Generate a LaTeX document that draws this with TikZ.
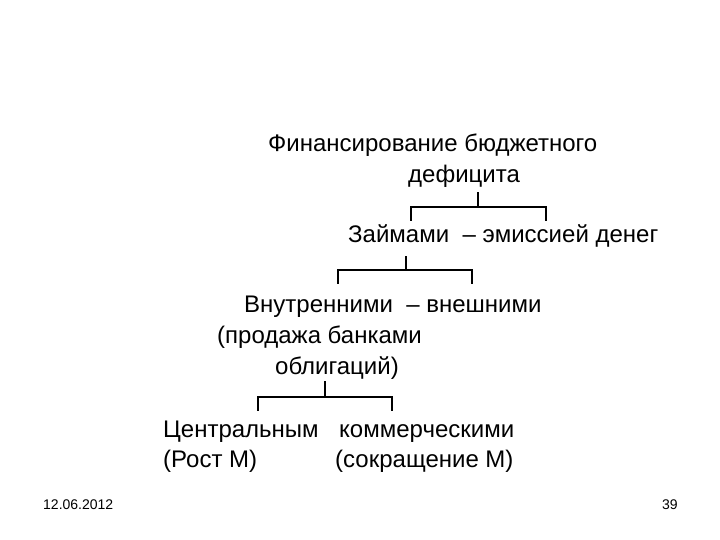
\documentclass[tikz,border=0pt]{standalone}
\usepackage{fontspec}
\setmainfont{Liberation Sans}
\begin{document}
\begin{tikzpicture}[x=1pt,y=-1pt,
  txt/.style={anchor=base west,inner sep=0pt,font=\fontsize{24}{29}\selectfont},
  foot/.style={anchor=base west,inner sep=0pt,font=\fontsize{14}{17}\selectfont},
  br/.style={line width=1.3pt,line cap=rect}]
\useasboundingbox[fill=white] (0,0) rectangle (720,540);
% texts
\node[txt] (t1a) at (268,152) {Финансирование бюджетного};
\node[txt] (t1b) at (408,183) {дефицита};
\node[txt] (t2) at (348,243) {Займами\ \ – эмиссией денег};
\node[txt] (t3a) at (244,312) {Внутренними\ \ – внешними};
\node[txt] (t3b) at (217,343) {(продажа банками};
\node[txt] (t3c) at (275,374) {облигаций)};
\node[txt] (t4a) at (163,437) {Центральным};
\node[txt] (t4b) at (339,437) {коммерческими};
\node[txt] (t5a) at (163,467) {(Рост М)};
\node[txt] (t5b) at (335,467) {(сокращение М)};
\node[foot] (date) at (43,509) {12.06.2012};
\node[foot] (num) at (662,509) {39};
% bracket 1
\coordinate (a0) at (478,193); \coordinate (a1) at (478,207);
\coordinate (aL) at (411,220); \coordinate (aR) at (546,220);
\draw[br] (a0) -- (a1);
\draw[br] (aL) |- (a1) -| (aR);
% bracket 2
\coordinate (b0) at (406,257); \coordinate (b1) at (406,270);
\coordinate (bL) at (338,283); \coordinate (bR) at (472,283);
\draw[br] (b0) -- (b1);
\draw[br] (bL) |- (b1) -| (bR);
% bracket 3
\coordinate (c0) at (325,382); \coordinate (c1) at (325,397);
\coordinate (cL) at (258,410); \coordinate (cR) at (392,410);
\draw[br] (c0) -- (c1);
\draw[br] (cL) |- (c1) -| (cR);
\end{tikzpicture}
\end{document}
